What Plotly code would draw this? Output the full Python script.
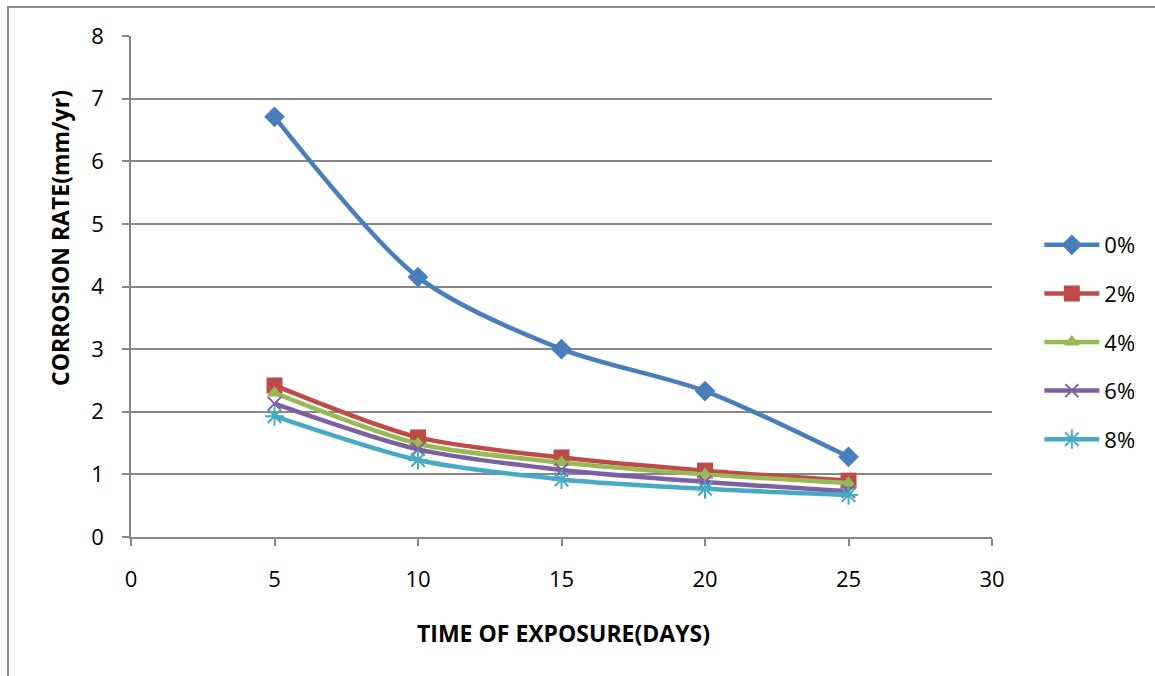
import plotly.graph_objects as go

# Exposure time (days) and corrosion rate (mm/yr) for each inhibitor concentration
days = [5, 10, 15, 20, 25]
rate_0 = [6.71, 4.15, 3.00, 2.33, 1.28]
rate_2 = [2.42, 1.59, 1.27, 1.06, 0.90]
rate_4 = [2.30, 1.49, 1.19, 1.00, 0.86]
rate_6 = [2.13, 1.40, 1.07, 0.88, 0.73]
rate_8 = [1.93, 1.23, 0.92, 0.77, 0.67]
series_names = ["0%", "2%", "4%", "6%", "8%"]

colors = ["#4A7EBB", "#BE4B48", "#98B954", "#7D60A0", "#46AAC5"]
markers = [
    dict(symbol="diamond", size=16),
    dict(symbol="square", size=16),
    dict(symbol="triangle-up", size=14),
    dict(symbol="x-thin-open", size=13, line=dict(width=2)),
    dict(symbol="asterisk-open", size=16, line=dict(width=2)),
]

fig = go.Figure()
for name, ys, col, mk in zip(series_names, [rate_0, rate_2, rate_4, rate_6, rate_8], colors, markers):
    mk = dict(mk, color=col)
    if "line" in mk:
        mk["line"] = dict(mk["line"], color=col)
    fig.add_trace(go.Scatter(
        x=days, y=ys, name=name, mode="lines+markers",
        line=dict(color=col, width=4.5, shape="spline", smoothing=0.8),
        marker=mk, legendgroup=name,
    ))

grid = "#878787"
font_family = "Open Sans, Liberation Sans, sans-serif"

fig.update_layout(
    width=1155, height=676,
    margin=dict(l=131, r=163, t=36, b=139),
    paper_bgcolor="white", plot_bgcolor="white",
    font=dict(family=font_family, size=22, color="black"),
    showlegend=True,
    legend=dict(x=1.055, y=(537 - 342) / 501, xanchor="left", yanchor="middle",
                font=dict(size=22), tracegroupgap=17, itemwidth=55,
                bgcolor="rgba(0,0,0,0)"),
    xaxis=dict(range=[0, 30], tickvals=[0, 5, 10, 15, 20, 25, 30],
               showgrid=False, zeroline=False, showline=True,
               linecolor=grid, linewidth=1.5,
               ticks="outside", ticklen=7, tickcolor=grid, tickwidth=1.5,
               tickfont=dict(size=22), ticklabelstandoff=15, fixedrange=True),
    yaxis=dict(range=[0, 8], tickvals=list(range(0, 9)),
               showgrid=True, gridcolor=grid, gridwidth=1.5,
               zeroline=False, showline=True,
               linecolor=grid, linewidth=1.5,
               ticks="outside", ticklen=7, tickcolor=grid, tickwidth=1.5,
               tickfont=dict(size=22), ticklabelstandoff=14, fixedrange=True),
    annotations=[
        dict(text="<b>TIME OF EXPOSURE(DAYS)</b>", xref="paper", yref="paper",
             x=(563 - 131) / 861, y=-(633 - 537) / 501, showarrow=False,
             xanchor="center", yanchor="middle", font=dict(size=23)),
        dict(text="<b>CORROSION RATE(mm/yr)</b>", xref="paper", yref="paper",
             x=-(131 - 60) / 861, y=(537 - 238) / 501, showarrow=False,
             textangle=-90, xanchor="center", yanchor="middle", font=dict(size=23)),
    ],
    shapes=[
        dict(type="rect", xref="paper", yref="paper",
             x0=-(131 - 8) / 861, x1=1.4, y0=-0.5, y1=(537 - 7) / 501,
             line=dict(color="#8C8C8C", width=2), layer="below"),
    ],
)

fig.write_html("out.html")
